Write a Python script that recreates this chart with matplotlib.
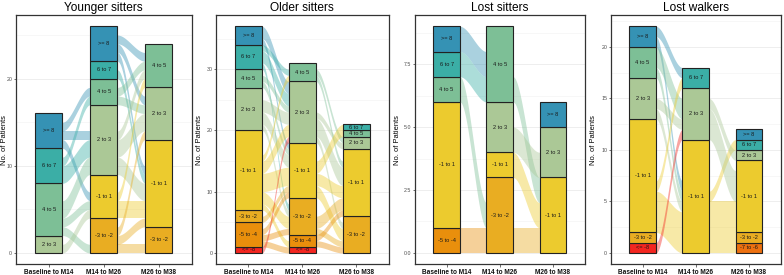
import numpy as np
import matplotlib
matplotlib.use('Agg')
import matplotlib.pyplot as plt
from matplotlib.ticker import MultipleLocator
from matplotlib.patches import Rectangle

plt.rcParams['font.family'] = ['Liberation Sans', 'DejaVu Sans']

# ---------------- data ----------------
strata_order = ['<= -8', '-7 to -6', '-5 to -4', '-3 to -2', '-1 to 1',
                '2 to 3', '4 to 5', '6 to 7', '>= 8']
strata_colors = {
    '<= -8': '#F32620', '-7 to -6': '#EC7010', '-5 to -4': '#E98F0C',
    '-3 to -2': '#E9AD22', '-1 to 1': '#ECCB2E', '2 to 3': '#ABC896',
    '4 to 5': '#7DBF96', '6 to 7': '#3BAEA6', '>= 8': '#3592B4',
}
axis_labels = ['Baseline to M14', 'M14 to M26', 'M26 to M38']
panel_titles = ['Younger sitters', 'Older sitters', 'Lost sitters', 'Lost walkers']
y_major = [10, 10, 2.5, 5]

# stratum counts per axis
younger_counts = [
    {'2 to 3': 2, '4 to 5': 6, '6 to 7': 4, '>= 8': 4},
    {'-3 to -2': 4, '-1 to 1': 5, '2 to 3': 8, '4 to 5': 3, '6 to 7': 2, '>= 8': 4},
    {'-3 to -2': 3, '-1 to 1': 10, '2 to 3': 6, '4 to 5': 5},
]
older_counts = [
    {'<= -8': 1, '-5 to -4': 4, '-3 to -2': 2, '-1 to 1': 13, '2 to 3': 7,
     '4 to 5': 3, '6 to 7': 4, '>= 8': 3},
    {'<= -8': 1, '-5 to -4': 2, '-3 to -2': 6, '-1 to 1': 9, '2 to 3': 10, '4 to 5': 3},
    {'-3 to -2': 6, '-1 to 1': 11, '2 to 3': 2, '4 to 5': 1, '6 to 7': 1},
]
lost_sitters_counts = [
    {'-5 to -4': 1, '-1 to 1': 5, '4 to 5': 1, '6 to 7': 1, '>= 8': 1},
    {'-3 to -2': 3, '-1 to 1': 1, '2 to 3': 2, '4 to 5': 3},
    {'-1 to 1': 3, '2 to 3': 2, '>= 8': 1},
]
lost_walkers_counts = [
    {'<= -8': 1, '-3 to -2': 1, '-1 to 1': 11, '2 to 3': 4, '4 to 5': 3, '>= 8': 2},
    {'-1 to 1': 11, '2 to 3': 5, '6 to 7': 2},
    {'-7 to -6': 1, '-3 to -2': 1, '-1 to 1': 7, '2 to 3': 1, '6 to 7': 1, '>= 8': 1},
]

# flows between adjacent axes: (from stratum, to stratum, n patients)
younger_flows = [
    [('>= 8', '4 to 5', 1), ('>= 8', '2 to 3', 1), ('>= 8', '-1 to 1', 1),
     ('6 to 7', '4 to 5', 1), ('6 to 7', '2 to 3', 2),
     ('4 to 5', '2 to 3', 2), ('4 to 5', '-1 to 1', 1), ('4 to 5', '-3 to -2', 1),
     ('2 to 3', '-1 to 1', 1)],
    [('>= 8', '4 to 5', 1), ('>= 8', '2 to 3', 1), ('>= 8', '-1 to 1', 1),
     ('6 to 7', '-1 to 1', 1),
     ('4 to 5', '2 to 3', 1), ('4 to 5', '4 to 5', 1),
     ('2 to 3', '4 to 5', 1), ('2 to 3', '2 to 3', 2), ('2 to 3', '-1 to 1', 2),
     ('-1 to 1', '4 to 5', 1), ('-1 to 1', '-1 to 1', 2),
     ('-3 to -2', '2 to 3', 1), ('-3 to -2', '-1 to 1', 1), ('-3 to -2', '-3 to -2', 1)],
]
older_flows = [
    [('>= 8', '2 to 3', 2), ('>= 8', '-1 to 1', 1),
     ('6 to 7', '2 to 3', 2), ('6 to 7', '-3 to -2', 1), ('6 to 7', '4 to 5', 1),
     ('4 to 5', '2 to 3', 1), ('4 to 5', '-1 to 1', 1),
     ('2 to 3', '2 to 3', 2), ('2 to 3', '-1 to 1', 2), ('2 to 3', '-3 to -2', 1),
     ('-1 to 1', '4 to 5', 1), ('-1 to 1', '2 to 3', 2), ('-1 to 1', '-1 to 1', 3),
     ('-1 to 1', '-3 to -2', 2), ('-1 to 1', '-5 to -4', 1),
     ('-3 to -2', '-1 to 1', 1),
     ('-5 to -4', '-1 to 1', 1), ('-5 to -4', '-3 to -2', 1), ('-5 to -4', '<= -8', 1),
     ('<= -8', '2 to 3', 1)],
    [('4 to 5', '-1 to 1', 1), ('4 to 5', '2 to 3', 1),
     ('2 to 3', '2 to 3', 1), ('2 to 3', '-1 to 1', 3), ('2 to 3', '-3 to -2', 1),
     ('-1 to 1', '6 to 7', 1), ('-1 to 1', '4 to 5', 1), ('-1 to 1', '-1 to 1', 2),
     ('-1 to 1', '-3 to -2', 2),
     ('-3 to -2', '-1 to 1', 2), ('-3 to -2', '-3 to -2', 1),
     ('-5 to -4', '-3 to -2', 1), ('-5 to -4', '-1 to 1', 1)],
]
lost_sitters_flows = [
    [('>= 8', '4 to 5', 1), ('6 to 7', '4 to 5', 1), ('4 to 5', '-3 to -2', 1),
     ('-5 to -4', '-3 to -2', 1)],
    [('4 to 5', '-1 to 1', 1), ('2 to 3', '2 to 3', 1), ('-1 to 1', '-1 to 1', 1),
     ('-3 to -2', '-1 to 1', 1)],
]
lost_walkers_flows = [
    [('>= 8', '6 to 7', 1), ('>= 8', '-1 to 1', 1),
     ('4 to 5', '-1 to 1', 1), ('4 to 5', '2 to 3', 2),
     ('2 to 3', '2 to 3', 1), ('2 to 3', '-1 to 1', 1),
     ('-1 to 1', '6 to 7', 1), ('-1 to 1', '-1 to 1', 4),
     ('<= -8', '2 to 3', 1)],
    [('-1 to 1', '-7 to -6', 1), ('-1 to 1', '-3 to -2', 1), ('-1 to 1', '-1 to 1', 3),
     ('-1 to 1', '6 to 7', 1),
     ('2 to 3', '-1 to 1', 3), ('2 to 3', '2 to 3', 1)],
]

panel_counts = [younger_counts, older_counts, lost_sitters_counts, lost_walkers_counts]
panel_flows = [younger_flows, older_flows, lost_sitters_flows, lost_walkers_flows]

# ---------------- layout ----------------
W, H = 784, 275
fig = plt.figure(figsize=(W / 100, H / 100), dpi=100)
panel_px = [(15.7, 191.7), (216, 388.7), (414.7, 584.7), (610.7, 780.7)]
ylabel_px = [7.6, 203.5, 400.7, 597.0]
top_px, bot_px = 15, 264.3
bar_w = 0.5


def stratum_bases(counts):
    bases, y = {}, 0.0
    for s in strata_order:
        if s in counts:
            bases[s] = y
            y += counts[s]
    return bases, y


def smooth(t):
    return t * t * (3 - 2 * t)


for p in range(4):
    x0, x1 = panel_px[p]
    ax = fig.add_axes([x0 / W, (H - bot_px) / H, (x1 - x0) / W, (bot_px - top_px) / H])
    counts = panel_counts[p]
    flows = panel_flows[p]
    totals = []
    bases_all = []
    for c in counts:
        b, t = stratum_bases(c)
        bases_all.append(b)
        totals.append(t)
    ymax = max(totals)

    # flows
    for k, fl in enumerate(flows):
        left_b, right_b = bases_all[k], bases_all[k + 1]
        lpos = {}
        for s in strata_order:
            out = [f for f in fl if f[0] == s]
            out.sort(key=lambda f: strata_order.index(f[1]))
            y = left_b.get(s, 0)
            for f in out:
                lpos[f] = y
                y += f[2]
        rpos = {}
        for s in strata_order:
            inc = [f for f in fl if f[1] == s]
            inc.sort(key=lambda f: strata_order.index(f[0]))
            y = right_b.get(s, 0)
            for f in inc:
                rpos[f] = y
                y += f[2]
        xa = k + 1 + bar_w / 2
        xb = k + 2 - bar_w / 2
        xs = np.linspace(xa, xb, 80)
        tt = smooth((xs - xa) / (xb - xa))
        for f in fl:
            ya, yb = lpos[f], rpos[f]
            lo = ya + (yb - ya) * tt
            ax.fill_between(xs, lo, lo + f[2], color=strata_colors[f[0]],
                            alpha=0.42, linewidth=0, zorder=2)

    # strata bars
    for i, c in enumerate(counts):
        b = bases_all[i]
        for s in strata_order:
            if s not in c:
                continue
            ax.add_patch(Rectangle((i + 1 - bar_w / 2, b[s]), bar_w, c[s],
                                   facecolor=strata_colors[s], edgecolor='#222222',
                                   linewidth=0.8, zorder=3))
            ax.text(i + 1, b[s] + c[s] / 2, s, ha='center', va='center',
                    fontsize=4.1, color='#1a1a1a', zorder=4)

    ax.set_xlim(0.4, 3.6)
    ax.set_ylim(-0.05 * ymax, 1.05 * ymax)
    ax.set_xticks([1, 2, 3])
    ax.set_xticklabels(axis_labels, fontsize=4.7, fontweight='bold', color='#111111')
    ax.yaxis.set_major_locator(MultipleLocator(y_major[p]))
    ax.yaxis.set_minor_locator(MultipleLocator(y_major[p] / 2))
    if p == 2:
        ax.yaxis.set_major_formatter(matplotlib.ticker.FormatStrFormatter('%.1f'))
    ax.tick_params(axis='y', labelsize=3.8, labelcolor='#4D4D4D', length=1.5,
                   width=0.5, color='#333333', pad=1)
    ax.tick_params(axis='y', which='minor', length=0)
    ax.tick_params(axis='x', length=2, width=0.5, color='#333333', pad=1.5)
    ax.grid(True, axis='y', which='major', color='#EBEBEB', linewidth=0.6, zorder=0)
    ax.grid(True, axis='y', which='minor', color='#F2F2F2', linewidth=0.4, zorder=0)
    ax.set_axisbelow(True)
    for sp in ax.spines.values():
        sp.set_color('#333333')
        sp.set_linewidth(0.9)
    ax.set_ylabel('No. of Patients', fontsize=5.4)
    ax.yaxis.set_label_coords((ylabel_px[p] - x0) / (x1 - x0), 0.5)
    ax.set_title(panel_titles[p], fontsize=8.6, pad=3)

fig.savefig('out.png', dpi=100)
